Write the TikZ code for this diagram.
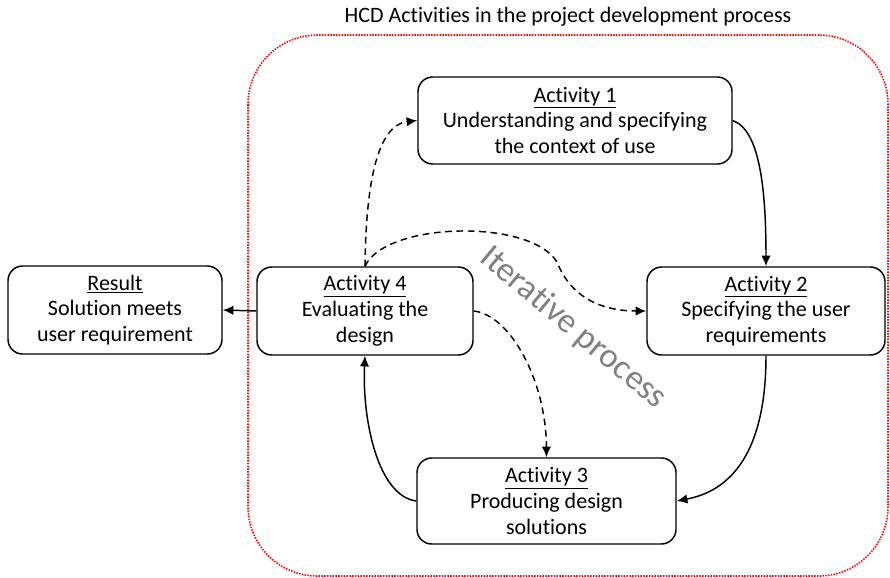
\documentclass[tikz,border=0pt]{standalone}
\usepackage{fontspec}
\setmainfont{Carlito}[Ligatures=NoCommon]
\usetikzlibrary{arrows.meta}

\tikzset{every picture/.style={line width=1.1pt}}
\tikzset{
  actbox/.style={draw, rounded corners=11pt, align=center, inner sep=2pt,
    font=\fontsize{16.5}{19.3}\selectfont},
  flow/.style={-{Latex[length=8pt,width=7pt]}},
  iter/.style={-{Latex[length=8pt,width=7pt]}, dash pattern=on 5pt off 3.5pt}
}

\begin{document}
\begin{tikzpicture}[x=0.75pt,y=0.75pt,yscale=-1,xscale=1]
\useasboundingbox (0,0) rectangle (890,578);

%Shape: red dotted frame
\draw [color=red, line width=1.2pt, dash pattern=on 1.1pt off 1pt, rounded corners=52pt] (248,35) rectangle (888,576);

% Text Node
\node (title) at (568,17) {\fontsize{16.5}{19}\selectfont HCD Activities in the project development process};

% Activity boxes
\node [actbox, minimum width=235.5pt, minimum height=65.25pt] (act1) at (575,120.5) {\underline{Activity 1}\\Understanding and specifying\\the context of use};
\node [actbox, minimum width=178.5pt, minimum height=66pt] (act2) at (766,311) {\underline{Activity 2}\\Specifying the user\\requirements};
\node [actbox, minimum width=194.25pt, minimum height=64.5pt] (act3) at (546.5,501) {\underline{Activity 3}\\Producing design\\solutions};
\node [actbox, minimum width=162pt, minimum height=66pt] (act4) at (365,311) {\underline{Activity 4}\\Evaluating the\\design};
\node [actbox, minimum width=160.5pt, minimum height=66pt] (res) at (115,310) {\underline{Result}\\Solution meets\\user requirement};

% Text Node
\node [color={rgb, 255:red, 128; green, 128; blue, 128}, rotate=-40] (itr) at (573,328) {\fontsize{26}{29}\selectfont Iterative process};

%Solid cycle
\draw [flow] (act1.east) .. controls (760,130) and (766,190) .. (act2.north);
\draw [flow] (act2.south) .. controls (766,430) and (745,488) .. (act3.east);
\draw [flow] (act3.west) .. controls (378,496) and (362,420) .. (act4.south);
\draw [flow] (act4.west) -- (res.east);

%Dashed returns
\draw [iter] (act4.north) .. controls (366,180) and (378,125) .. (act1.west);
\draw [iter] (act4.north) .. controls (385,222) and (530,218) .. (557,262) .. controls (572,300) and (605,311) .. (act2.west);
\draw [iter] (act4.east) .. controls (510,315) and (546,380) .. (act3.north);

\end{tikzpicture}
\end{document}
